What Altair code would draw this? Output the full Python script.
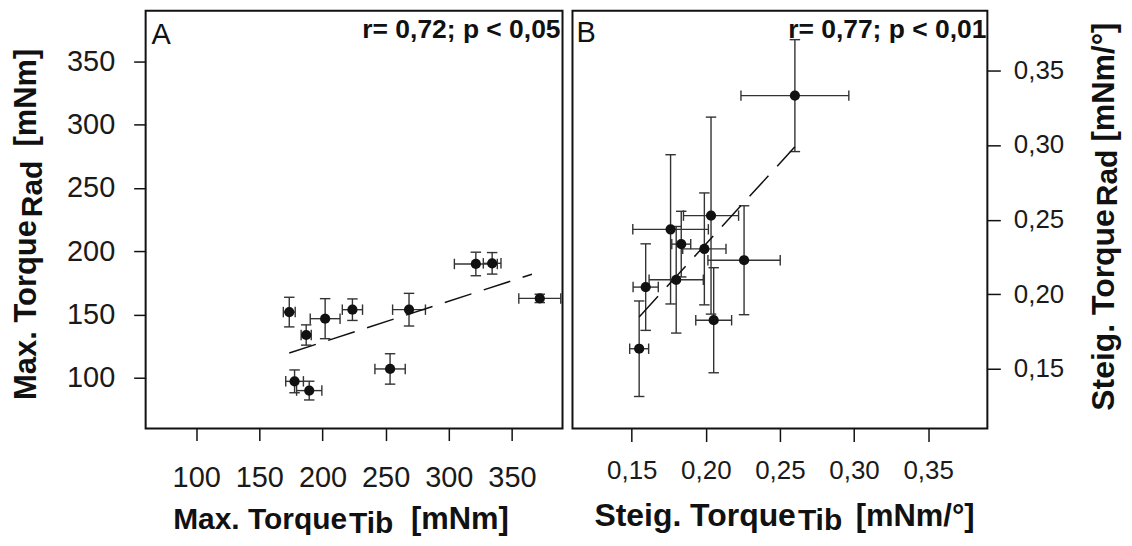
import altair as alt
import pandas as pd

# ---------------- Panel A: Max. Torque (mNm) ----------------
a_x = [173.7, 187.1, 202.1, 223.7, 268.5, 321.4, 334.3, 372.0, 177.9, 189.5, 253.5]
a_y = [152.0, 133.9, 146.8, 153.9, 153.9, 190.0, 190.5, 162.8, 97.3, 90.0, 107.1]
a_xerr = [4.7, 4.0, 11.8, 8.0, 13.0, 17.0, 7.0, 16.6, 7.0, 10.0, 12.0]
a_yerr = [11.7, 8.0, 15.8, 8.5, 12.9, 9.3, 8.5, 3.3, 9.0, 7.4, 12.0]
a_fit_x = [173.7, 365.8]
a_fit_y = [119.7, 181.9]
a_ticks = [100, 150, 200, 250, 300, 350]
a_domain = [60, 390]

# ---------------- Panel B: Steig. Torque (mNm/°) ----------------
b_x = [0.2601, 0.2035, 0.1762, 0.1834, 0.1990, 0.2258, 0.1800, 0.1594, 0.2053, 0.1550]
b_y = [0.3331, 0.2527, 0.2435, 0.2336, 0.2304, 0.2228, 0.2097, 0.2048, 0.1826, 0.1635]
b_xerr = [0.0364, 0.0186, 0.0255, 0.0064, 0.0146, 0.0244, 0.0183, 0.0085, 0.0121, 0.0064]
b_yerr = [0.0375, 0.0660, 0.0500, 0.0220, 0.0375, 0.0365, 0.0357, 0.0290, 0.0352, 0.0320]
b_fit_x = [0.155, 0.2601]
b_fit_y = [0.1848, 0.2988]
b_ticks = [0.15, 0.20, 0.25, 0.30, 0.35]
b_domain = [0.11, 0.39]

FONT = "Liberation Sans"
INK = "#111111"
BAR = "#333333"


def make_df(x, y, xe, ye):
    return pd.DataFrame({
        "x": x, "y": y,
        "xlo": [v - e for v, e in zip(x, xe)], "xhi": [v + e for v, e in zip(x, xe)],
        "ylo": [v - e for v, e in zip(y, ye)], "yhi": [v + e for v, e in zip(y, ye)],
    })


def txt(text, x, y, size, bold=True, align="left", angle=0):
    return alt.Chart(pd.DataFrame({"t": [text]})).mark_text(
        align=align, baseline="alphabetic", font=FONT, fontSize=size,
        fontWeight="bold" if bold else "normal", angle=angle, color=INK,
    ).encode(text="t:N", x=alt.value(x), y=alt.value(y))


def panel(df, fit_df, sx, sy, axx, axy, width, height, texts):
    def X(f):
        return alt.X(f"{f}:Q", scale=sx, axis=axx)

    def Y(f):
        return alt.Y(f"{f}:Q", scale=sy, axis=axy)

    vbar = alt.Chart(df).mark_rule(color=BAR, strokeWidth=1.4).encode(
        x=X("x"), y=Y("ylo"), y2=alt.Y2("yhi"))
    hbar = alt.Chart(df).mark_rule(color=BAR, strokeWidth=1.4).encode(
        x=X("xlo"), x2=alt.X2("xhi"), y=Y("y"))
    hcap = dict(shape="M-1,0L1,0", size=110, filled=False, strokeWidth=1.4, color=BAR, opacity=1)
    vcap = dict(shape="M0,-1L0,1", size=110, filled=False, strokeWidth=1.4, color=BAR, opacity=1)
    cap1 = alt.Chart(df).mark_point(**hcap).encode(x=X("x"), y=Y("ylo"))
    cap2 = alt.Chart(df).mark_point(**hcap).encode(x=X("x"), y=Y("yhi"))
    cap3 = alt.Chart(df).mark_point(**vcap).encode(x=X("xlo"), y=Y("y"))
    cap4 = alt.Chart(df).mark_point(**vcap).encode(x=X("xhi"), y=Y("y"))
    fit = alt.Chart(fit_df).mark_line(color=INK, strokeWidth=1.5, strokeDash=[28, 13]).encode(
        x=X("x"), y=Y("y"))
    pts = alt.Chart(df).mark_point(filled=True, size=105, color=INK, opacity=1, shape="circle").encode(
        x=X("x"), y=Y("y"))
    return alt.layer(vbar, hbar, cap1, cap2, cap3, cap4, fit, pts, *texts).properties(
        width=width, height=height)


dfA = make_df(a_x, a_y, a_xerr, a_yerr)
fitA = pd.DataFrame({"x": a_fit_x, "y": a_fit_y})
dfB = make_df(b_x, b_y, b_xerr, b_yerr)
fitB = pd.DataFrame({"x": b_fit_x, "y": b_fit_y})

WA, HA = 418, 419
WB, HB = 416, 419

axA_x = alt.Axis(values=a_ticks, tickSize=12, labelPadding=23, labelFontSize=29, title=None)
axA_y = alt.Axis(values=a_ticks, tickSize=12, labelPadding=19, labelFontSize=29, title=None)
comma = "replace(format(datum.value, '.2f'), '.', ',')"
axB_x = alt.Axis(values=b_ticks, tickSize=13, labelPadding=16, labelFontSize=26, labelExpr=comma, title=None)
axB_y = alt.Axis(values=b_ticks, tickSize=13, labelPadding=13, labelFontSize=26, labelExpr=comma,
                 title=None, orient="right")

textsA = [
    txt("A", 6, 33, 29, bold=False),
    txt("r= 0,72; p < 0,05", 416, 27, 26.5, align="right"),
    txt("Max. Torque", 202, 520, 30, align="right"),
    txt("Tib", 204, 524, 30),
    txt("[mNm]", 266, 520, 31),
    txt("Max. Torque", -110, 210, 31, align="right", angle=270),
    txt("Rad", -104, 207, 30, angle=270),
    txt("[mNm]", -110, 38, 31, align="right", angle=270),
]
textsB = [
    txt("B", 4, 31, 29, bold=False),
    txt("r= 0,77; p < 0,01", 415, 27, 26.5, align="right"),
    txt("Steig. Torque", 224, 517, 32, align="right"),
    txt("Tib", 226, 521, 30),
    txt("[mNm/°]", 284, 517, 31),
    txt("Steig. Torque", 543, 199, 32, align="right", angle=270),
    txt("Rad", 546, 196, 30, angle=270),
    txt("[mNm/°]", 543, 12, 31, align="right", angle=270),
]

sA = alt.Scale(domain=a_domain, nice=False, zero=False)
sB = alt.Scale(domain=b_domain, nice=False, zero=False)

panelA = panel(dfA, fitA, sA, sA, axA_x, axA_y, WA, HA, textsA)
panelB = panel(dfB, fitB, sB, sB, axB_x, axB_y, WB, HB, textsB)

chart = alt.hconcat(panelA, panelB, spacing=6).properties(
    padding={"left": 2, "top": 1, "right": 0, "bottom": -3},
    background="white",
).configure_view(
    stroke=INK, strokeWidth=2
).configure_axis(
    labelFont=FONT, labelColor="#1a1a1a", tickColor=INK, tickWidth=1.5,
    domain=False, grid=False,
)

chart.save("out.html", embed_options={"renderer": "svg", "actions": False})
